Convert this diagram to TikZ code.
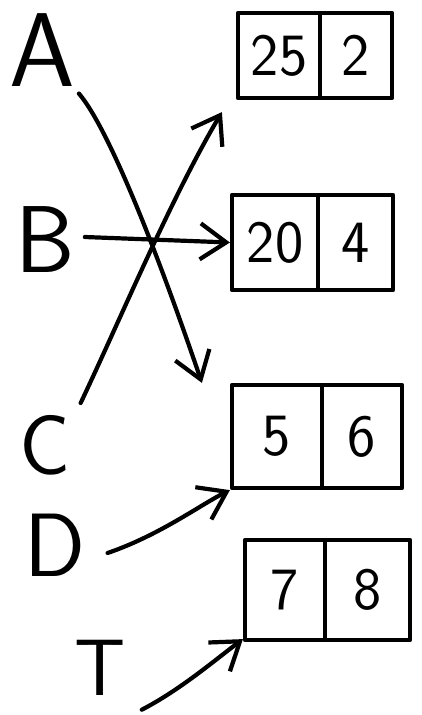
\documentclass[tikz,border=0pt]{standalone}
\usetikzlibrary{arrows.meta,calc}
\begin{document}
\begin{tikzpicture}[x=1pt,y=-1pt,line width=4.2pt,line cap=round,line join=round,
  letter/.style={font=\sffamily\fontsize{#1}{#1}\selectfont,inner sep=0pt},
  cell/.style={draw,inner sep=0pt,font=\sffamily\fontsize{60}{60}\selectfont},
  arr/.style={-{Straight Barb[length=26pt,width=36pt]}}]
\useasboundingbox (0,0) rectangle (422,715);
% letters
\node[letter=105] (A) at (42,50) {A};
\node[letter=95] (B) at (45,240) {B};
\node[letter=85] (C) at (45,445) {C};
\node[letter=90] (D) at (55,545) {D};
\node[letter=80] (T) at (100,668) {T};
% boxes
\node[cell,minimum width=82pt,minimum height=85pt] (b1l) at (279,55.5) {25};
\node[cell,minimum width=72pt,minimum height=85pt] (b1r) at (356,55.5) {2};
\node[cell,minimum width=86pt,minimum height=95pt] (b2l) at (275,242.5) {20};
\node[cell,minimum width=75pt,minimum height=95pt] (b2r) at (355.5,242.5) {4};
\node[cell,minimum width=90pt,minimum height=103pt] (b3l) at (277,436.5) {5};
\node[cell,minimum width=80pt,minimum height=103pt] (b3r) at (362,436.5) {6};
\node[cell,minimum width=80pt,minimum height=100pt] (b4l) at (285,590) {7};
\node[cell,minimum width=85pt,minimum height=100pt] (b4r) at (367.5,590) {8};
% connectors
\coordinate (aEnd) at ($(b3l.north west)+(-28,0)$);
\coordinate (cEnd) at ($(b1l.south west)+(-14,12)$);
\draw[arr] ($(A.south east)+(2,5)$) .. controls (110,130) and (160,260) .. (aEnd);
\draw[arr] ($(C.north east)+(8,-10)$) .. controls (120,320) and (170,200) .. (cEnd);
\draw[arr] ($(B.east)+(8,-3)$) -- (b2l.west);
\draw[arr] ($(D.east)+(20,8)$) .. controls (160,535) and (200,505) .. (b3l.south west);
\draw[arr] ($(T.south east)+(14,12)$) .. controls (180,690) and (215,660) .. ($(b4l.south west)+(0,-3)$);
\end{tikzpicture}
\end{document}
